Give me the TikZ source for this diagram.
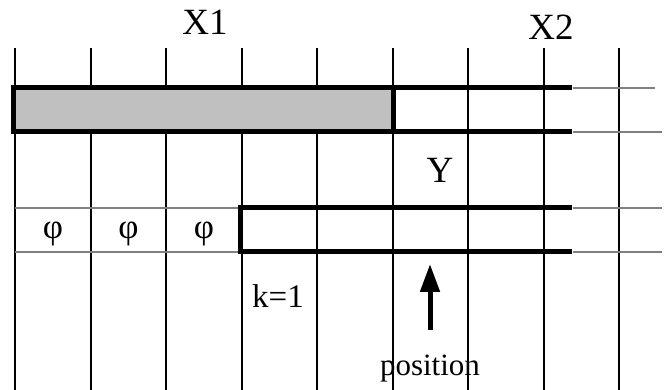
\documentclass[tikz,border=0pt]{standalone}
\usepackage{fontspec}
\setmainfont{Liberation Serif}
\usepackage{tikz}
\usetikzlibrary{arrows.meta,positioning}
\definecolor{cellgray}{RGB}{192,192,192}
\definecolor{rulegray}{RGB}{128,128,128}

\begin{document}
\begin{tikzpicture}[
  x=1pt, y=-1pt,
  every node/.style={font=\fontsize{31}{37}\selectfont, inner sep=0pt},
  biglabel/.style={font=\fontsize{37}{44}\selectfont},
  gridline/.style={black, line width=2pt},
  thinrow/.style={rulegray, line width=2pt},
  thickrow/.style={black, line width=5pt},
  uparrow/.style={black, line width=5pt, -{Triangle[length=28pt,width=19pt]}},
]
\useasboundingbox (0,0) rectangle (665,390);

%% Grid columns
\foreach \i in {0,...,8}{
  \draw[gridline] (15+\i*75.5, 48) -- (15+\i*75.5, 390);
}

%% Upper band: shaded block, then open part, then grey tail
\def\ya{88}   % top edge
\def\yb{132}  % bottom edge
\filldraw[fill=cellgray, draw=black, line width=5pt] (13,\ya) rectangle (393,\yb);
\draw[thickrow] (393,\ya) -- (572,\ya);
\draw[thickrow] (393,\yb) -- (572,\yb);
\draw[thinrow] (573,\ya) -- (655,\ya);
\draw[thinrow] (573,\yb) -- (662,\yb);

%% Lower band: grey head, open block from k=1, grey tail
\def\yc{208}
\def\yd{252}
\draw[thinrow] (15,\yc) -- (240,\yc);
\draw[thinrow] (15,\yd) -- (240,\yd);
\draw[thickrow, line join=miter] (572,\yc) -- (240,\yc) -- (240,\yd) -- (572,\yd);
\draw[thinrow] (573,\yc) -- (662,\yc);
\draw[thinrow] (573,\yd) -- (662,\yd);

%% Empty cells
\foreach \n/\xi in {phia/0, phib/1, phic/2}{
  \node[font=\fontsize{35}{42}\selectfont, anchor=base] (\n) at (53+\xi*75.5, 239) {φ};
}

%% Labels
\node[biglabel, anchor=base] (xone) at (205,35) {X1};
\node[biglabel, anchor=base] (xtwo) at (551,40) {X2};
\node[biglabel, anchor=base] (ylab) at (440,183) {Y};
\node[font=\fontsize{33}{40}\selectfont, anchor=base] (kone) at (278,308) {k=1};
\node[anchor=base] (pos) at (430,376) {position};

%% Position marker
\coordinate (tip) at (430,264);
\draw[uparrow] ([yshift=25pt]pos.north) -- (tip);

\end{tikzpicture}
\end{document}
